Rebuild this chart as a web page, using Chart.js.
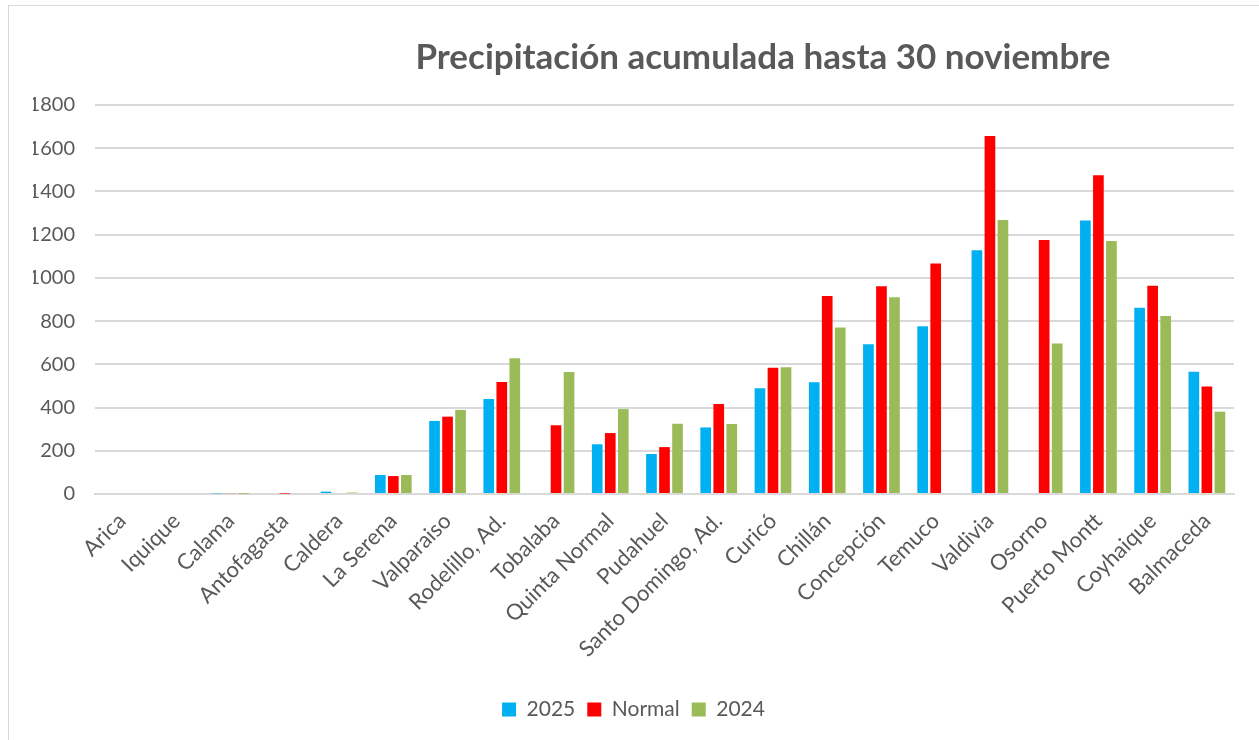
<!DOCTYPE html>
<html>
<head>
<meta charset="utf-8">
<script src="https://cdn.jsdelivr.net/npm/chart.js@4/dist/chart.umd.min.js"></script>
<style>
  html, body { margin: 0; padding: 0; background: #fff; overflow: hidden; }
  #frame {
    position: absolute; left: 8px; top: 5px; width: 1260px; height: 740px;
    border-top: 1px solid #d9d9d9; border-left: 1px solid #d9d9d9; overflow: hidden;
  }
  #title {
    position: absolute; left: 0; top: 28px; width: 1508px; text-align: center;
    font-family: Lato, sans-serif; font-weight: bold; font-size: 35px; color: #595959;
  }
  #chart-box { position: absolute; left: 0; top: 0; width: 1250px; height: 734px; }
</style>
</head>
<body>
<div id="frame">
  <div id="chart-box"><canvas id="precip-chart"></canvas></div>
  <div id="title">Precipitación acumulada hasta 30 noviembre</div>
</div>
<script>
const stations = ['Arica', 'Iquique', 'Calama', 'Antofagasta', 'Caldera', 'La Serena', 'Valparaiso',
  'Rodelillo, Ad.', 'Tobalaba', 'Quinta Normal', 'Pudahuel', 'Santo Domingo, Ad.', 'Curicó', 'Chillán',
  'Concepción', 'Temuco', 'Valdivia', 'Osorno', 'Puerto Montt', 'Coyhaique', 'Balmaceda'];

const values2025 = [0, 0, 3, 0, 11, 88, 338, 440, null, 230, 185, 308, 489, 517, 693, 776, 1128, null, 1265, 862, 566];
const valuesNormal = [0, 0, 4, 2, 0, 83, 358, 518, 318, 282, 217, 416, 584, 916, 961, 1067, 1657, 1175, 1475, 964, 498];
const values2024 = [0, 0, 1, 0, 7, 88, 389, 628, 565, 393, 325, 324, 587, 770, 910, null, 1268, 696, 1171, 824, 381];

const yTicks = [0, 200, 400, 600, 800, 1000, 1200, 1400, 1600, 1800];

const colors = {
  y2025: '#00b0f0',
  normal: '#ff0000',
  y2024: '#9bbb59',
};

const textColor = '#595959';
const gridColor = '#d9d9d9';

Chart.defaults.font.family = 'Lato, sans-serif';
Chart.defaults.color = textColor;

const datasets = [
  { label: '2025', data: values2025, backgroundColor: colors.y2025 },
  { label: 'Normal', data: valuesNormal, backgroundColor: colors.normal },
  { label: '2024', data: values2024, backgroundColor: colors.y2024 },
].map((set) => ({
  ...set,
  borderWidth: 0,
  categoryPercentage: 0.72,
  barPercentage: 0.82,
}));

new Chart(document.querySelector('#precip-chart'), {
  type: 'bar',
  data: { labels: stations, datasets },
  options: {
    responsive: true,
    maintainAspectRatio: false,
    animation: false,
    layout: { padding: { top: 99, right: 25, left: 24, bottom: 10 } },
    plugins: {
      legend: {
        position: 'bottom',
        labels: {
          boxWidth: 14,
          boxHeight: 14,
          padding: 12,
          color: textColor,
          font: { size: 21 },
        },
      },
      tooltip: { enabled: false },
    },
    scales: {
      x: {
        grid: { display: false, drawTicks: false },
        border: { color: gridColor, width: 2 },
        afterFit: (scale) => { scale.height = 193; },
        ticks: {
          color: textColor,
          font: { size: 22 },
          minRotation: 45,
          maxRotation: 45,
          autoSkip: false,
          padding: 14,
        },
      },
      y: {
        min: yTicks[0],
        max: yTicks[yTicks.length - 1],
        afterBuildTicks: (axis) => { axis.ticks = yTicks.map((value) => ({ value })); },
        afterFit: (scale) => { scale.width = 62; },
        grid: { color: gridColor, lineWidth: 2, drawTicks: false },
        border: { display: false },
        ticks: {
          color: textColor,
          font: { size: 20 },
          padding: 20,
          callback: (value) => String(value),
        },
      },
    },
  },
});
</script>
</body>
</html>
